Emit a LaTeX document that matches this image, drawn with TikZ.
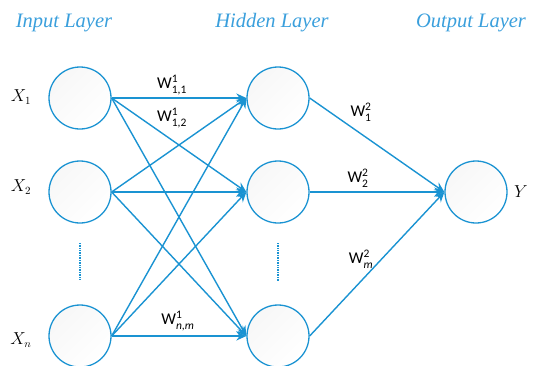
\documentclass[tikz,border=0pt]{standalone}
\usepackage{fontspec}
\setmainfont{Liberation Serif}
\newfontfamily\wfont{Carlito}
\usetikzlibrary{arrows.meta}
\definecolor{netblue}{HTML}{1A93D2}
\definecolor{titleblue}{HTML}{3A9FDC}
% weight label: W with stacked superscript and subscript in the sans face
\newcommand{\idxsize}{\fontsize{11.5}{12}\selectfont}
\newcommand{\wgt}[2]{$\mbox{\wfont W}^{\mbox{\wfont\idxsize #1}}_{\mbox{\wfont\idxsize #2}}$}
\begin{document}
\begin{tikzpicture}[x=1pt,y=-1pt,
  neuron/.style={circle,draw=netblue,line width=1.3pt,minimum size=62pt,inner sep=0pt,
    left color=gray!6,right color=white,shading angle=45},
  link/.style={draw=netblue,line width=1.4pt},
  arrowlink/.style={link,-{Stealth[length=10pt,width=9pt]}},
  layertitle/.style={text=titleblue,font=\itshape\fontsize{20.5}{24}\selectfont,inner sep=0pt},
  varlabel/.style={font=\fontsize{16}{18}\selectfont,inner sep=0pt},
  wlabel/.style={font=\fontsize{16.5}{19}\selectfont,inner sep=0pt},
  dots/.style={draw=netblue,line width=1.6pt,dash pattern=on 1pt off 0.7pt}]
\useasboundingbox (0,0) rectangle (534,365);

% layer titles
\node[layertitle] (tin) at (64,23) {Input Layer};
\node[layertitle] (thid) at (272,23) {Hidden Layer};
\node[layertitle] (tout) at (471,23) {Output Layer};

% neurons
\node[neuron] (i1) at (80,98) {};
\node[neuron] (i2) at (80,192) {};
\node[neuron] (in) at (80,336) {};
\node[neuron] (h1) at (278,98) {};
\node[neuron] (h2) at (278,192) {};
\node[neuron] (hm) at (278,336) {};
\node[neuron] (o) at (476,192) {};

% ellipsis between neurons
\coordinate (di1) at (80,243);
\coordinate (di2) at (80,279);
\coordinate (dh1) at (278,243);
\coordinate (dh2) at (278,281);
\draw[dots] (di1) -- (di2);
\draw[dots] (dh1) -- (dh2);

% variable labels
\node[varlabel] (x1) at (21,97) {$X_1$};
\node[varlabel] (x2) at (21,187) {$X_2$};
\node[varlabel] (xn) at (21,340) {$X_n$};
\node[varlabel] (y) at (521,192) {$Y$};

% input to hidden connections
\foreach \a in {i1,i2,in}
  \foreach \b in {h1,h2,hm}
    \draw[arrowlink] (\a.east) -- (\b.west);

% hidden to output connections
\foreach \b in {h1,h2,hm}
  \draw[arrowlink] (\b.east) -- (o.west);

% weight labels
\node[wlabel] (w11) at (172,85) {\wgt{1}{1,1}};
\node[wlabel] (w12) at (172,118) {\wgt{1}{1,2}};
\node[wlabel] (wnm) at (178,321) {\wgt{1}{\itshape n,m}};
\node[wlabel] (v1) at (361,112) {\wgt{2}{1}};
\node[wlabel] (v2) at (358,178) {\wgt{2}{2}};
\node[wlabel] (vm) at (361,259) {\wgt{2}{\itshape m}};
\end{tikzpicture}
\end{document}
